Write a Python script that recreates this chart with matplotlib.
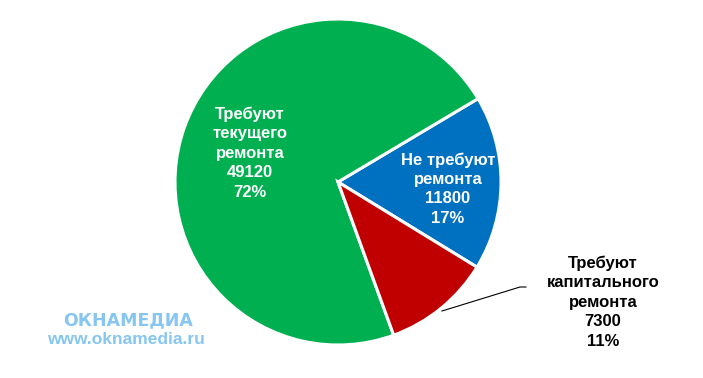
import matplotlib
matplotlib.use("Agg")
import matplotlib.pyplot as plt

# data
categories = ["Не требуют\nремонта", "Требуют\nтекущего\nремонта", "Требуют\nкапитального\nремонта"]
values = [11800, 49120, 7300]
colors = ["#0070C0", "#00B050", "#C00000"]

W, H = 703, 378
fig = plt.figure(figsize=(W / 100, H / 100), dpi=100)
ax = fig.add_axes([0, 0, 1, 1])

cx, cy, r = 338, H - 182, 163
wedges, _ = ax.pie(values, colors=colors, startangle=-31.5, center=(cx, cy), radius=r,
                   explode=[0.012, 0, 0],
                   wedgeprops=dict(edgecolor="white", linewidth=2.2))
ax.set_xlim(0, W)
ax.set_ylim(0, H)
ax.set_aspect("equal")
ax.axis("off")

total = sum(values)
labels = [f"{c}\n{v}\n{round(100 * v / total)}%" for c, v in zip(categories, values)]

font = dict(family=["Liberation Sans", "DejaVu Sans"], fontsize=12, fontweight="bold",
            ha="center", va="center", linespacing=1.37)
ax.text(448, H - 189, labels[0], color="white", **font)
ax.text(250, H - 153, labels[1], color="white", **font)
ax.text(603, H - 302, labels[2], color="black", **font)

# leader line for the outside label
ax.plot([442, 520, 526], [H - 311, H - 287, H - 287], color="black", lw=0.8)

# watermark
wm = "#86C6F0"
ax.text(128, H - 320, "ОКНАМЕДИА", color=wm, fontsize=12.5, fontweight="bold",
        family=["DejaVu Sans"], ha="center", va="center")
ax.text(126, H - 340, "www.oknamedia.ru", color=wm, fontsize=12.5, fontweight="bold",
        family=["Liberation Sans", "DejaVu Sans"], ha="center", va="center")

fig.savefig("out.png", dpi=100)
